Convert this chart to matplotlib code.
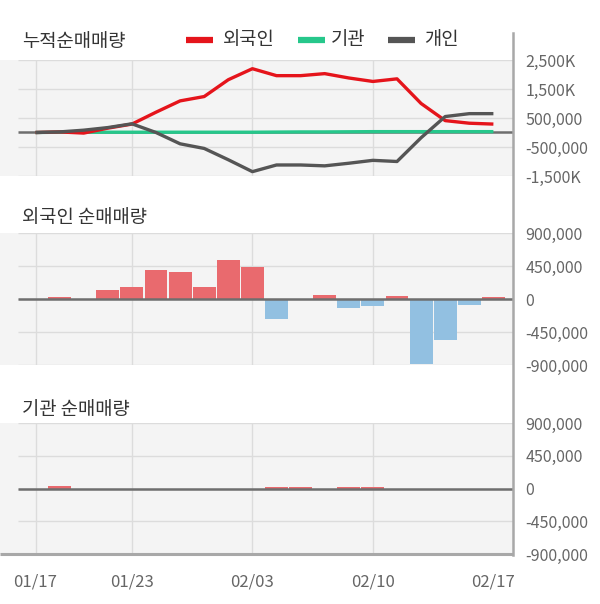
import matplotlib
matplotlib.use("Agg")
import matplotlib.pyplot as plt
from matplotlib.lines import Line2D
import numpy as np

plt.rcParams['font.family'] = ['Noto Sans CJK KR', 'DejaVu Sans']

# ---------------- data ----------------
dates = ["01/17", "01/20", "01/21", "01/22", "01/23", "01/28", "01/29", "01/30", "01/31",
         "02/03", "02/04", "02/05", "02/06", "02/07", "02/10", "02/11", "02/12", "02/13",
         "02/14", "02/17"]
xtick_labels = ["01/17", "01/23", "02/03", "02/10", "02/17"]

cum_foreign = [0, 20000, -20000, 150000, 290000, 700000, 1090000, 1240000, 1820000, 2200000,
               1960000, 1960000, 2030000, 1880000, 1760000, 1850000, 1000000, 410000, 320000, 290000]
cum_inst = [0, 10000, 10000, 10000, 10000, 10000, 10000, 10000, 10000, 10000,
            15000, 20000, 20000, 25000, 30000, 30000, 30000, 30000, 30000, 30000]
cum_indiv = [0, 20000, 80000, 170000, 300000, 0, -390000, -550000, -940000, -1350000,
             -1120000, -1120000, -1150000, -1060000, -960000, -1000000, -180000, 550000, 650000, 650000]

daily_foreign = [0, 30000, 0, 120000, 160000, 395000, 367000, 160000, 528000, 436000,
                 -270000, 0, 60000, -128000, -92000, 46000, -890000, -560000, -78000, 30000]
daily_inst = [0, 30000, 0, 0, 0, 0, 0, 0, 0, 0,
              25000, 25000, 0, 25000, 25000, 0, 0, 0, 0, 0]

top_ticks = [2500000, 1500000, 500000, -500000, -1500000]
top_tick_labels = ["2,500K", "1,500K", "500,000", "-500,000", "-1,500K"]
bar_ticks = [900000, 450000, 0, -450000, -900000]
bar_tick_labels = ["900,000", "450,000", "0", "-450,000", "-900,000"]

legend_labels = ["외국인", "기관", "개인"]
titles = ["누적순매매량", "외국인 순매매량", "기관 순매매량"]

# ---------------- style ----------------
RED = "#e5141b"
GREEN = "#26c78b"
DARK = "#555555"
BAR_RED = "#e96a6e"
BAR_BLUE = "#92c0e1"
BG = "#f4f4f4"
GRID = "#dcdcdc"
ZERO = "#6e6e6e"
AXIS = "#a8a8a8"
TICK_COLOR = "#666666"
TITLE_COLOR = "#333333"

W, H = 600, 604
fig = plt.figure(figsize=(W / 100, H / 100), dpi=100)

x = np.arange(len(dates))
x_left = -35.5 / 24.1
x_right = (513 - 35.5) / 24.1
grid_start = -0.73
vgrid_idx = [dates.index(d) for d in xtick_labels[:-1]]


def px_axes(top, bottom, left=0, right=513):
    return fig.add_axes([left / W, 1 - bottom / H, (right - left) / W, (bottom - top) / H])


def style_axes(ax, ticks, labels):
    ax.set_facecolor(BG)
    for s in ax.spines.values():
        s.set_visible(False)
    ax.set_xlim(x_left, x_right)
    ax.set_ylim(ticks[-1], ticks[0])
    ax.set_yticks(ticks)
    ax.set_yticklabels(labels)
    ax.yaxis.tick_right()
    ax.tick_params(axis='y', length=0, pad=9, labelsize=11.5, labelcolor=TICK_COLOR)
    ax.set_xticks([])
    for t in ticks:
        ax.hlines(t, grid_start, x_right, colors=GRID, linewidth=1, zorder=1)
    for i in vgrid_idx:
        ax.axvline(i, color=GRID, linewidth=1, zorder=1)
    ax.hlines(0, grid_start, x_right, colors=ZERO, linewidth=1.8, zorder=4)


# top panel
ax1 = px_axes(60, 176)
style_axes(ax1, top_ticks, top_tick_labels)
ax1.plot(x, cum_inst, color=GREEN, linewidth=2.4, zorder=5, solid_capstyle='butt')
ax1.plot(x, cum_foreign, color=RED, linewidth=2.4, zorder=6, solid_capstyle='butt')
ax1.plot(x, cum_indiv, color=DARK, linewidth=2.4, zorder=7, solid_capstyle='butt')

# middle panel
ax2 = px_axes(233, 365)
style_axes(ax2, bar_ticks, bar_tick_labels)
df = np.array(daily_foreign)
ax2.bar(x, df, width=0.95, color=np.where(df >= 0, BAR_RED, BAR_BLUE), zorder=3)

# bottom panel
ax3 = px_axes(423, 554)
style_axes(ax3, bar_ticks, bar_tick_labels)
di = np.array(daily_inst)
ax3.bar(x, di, width=0.95, color=np.where(di >= 0, BAR_RED, BAR_BLUE), zorder=3)
ax3.set_xticks([dates.index(d) for d in xtick_labels])
ax3.set_xticklabels(xtick_labels)
ax3.tick_params(axis='x', length=0, pad=14, labelsize=12, labelcolor=TICK_COLOR)
ax3.hlines(ax3.get_ylim()[0], x_left, x_right, colors=AXIS, linewidth=2.2, zorder=8, clip_on=False)

# right vertical axis line spanning all panels
fig.add_artist(Line2D([513 / W, 513 / W], [1 - 33 / H, 1 - 555 / H], color=AXIS, linewidth=1.8,
                      transform=fig.transFigure))

# titles
for ty, t in zip([42, 218, 410], titles):
    fig.text(22 / W, 1 - ty / H, t, fontsize=13.5, color=TITLE_COLOR, va='center', ha='left')

# legend
leg_y = 1 - 40 / H
for (x0, x1, tx), col, lab in zip([(186, 213, 223), (298, 325, 331), (388, 415, 424)],
                                   [RED, GREEN, DARK], legend_labels):
    fig.add_artist(Line2D([x0 / W, x1 / W], [leg_y, leg_y], color=col, linewidth=4.5,
                          transform=fig.transFigure, solid_capstyle='butt'))
    fig.text(tx / W, leg_y, lab, fontsize=13.5, color=TITLE_COLOR, va='center', ha='left')

fig.savefig("out.png", dpi=100)
